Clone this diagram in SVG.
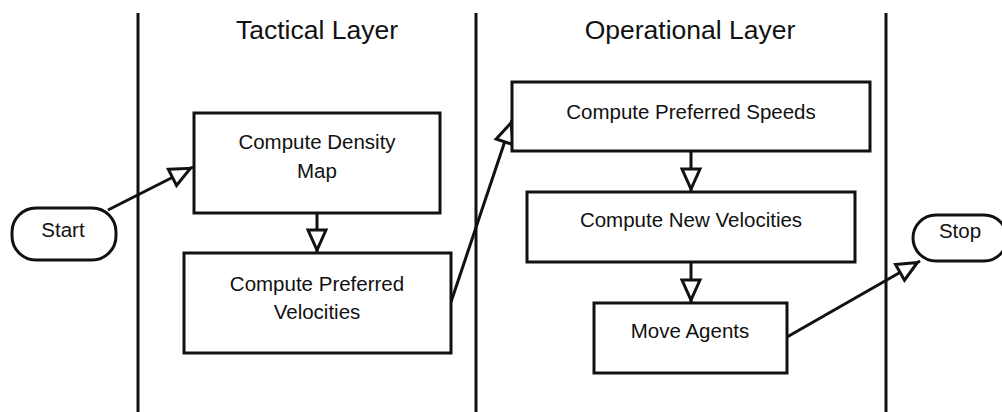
<svg xmlns="http://www.w3.org/2000/svg" width="1002" height="412" viewBox="0 0 1002 412">
<defs>
<style>
.lane{stroke:#111;stroke-width:3;fill:none}
.box{fill:#fff;stroke:#111;stroke-width:3}
.t{font-family:"Liberation Sans",Arial,Helvetica,sans-serif;font-size:20.5px;fill:#111;text-anchor:middle}
.title{font-family:"Liberation Sans",Arial,Helvetica,sans-serif;font-size:26.5px;fill:#111;text-anchor:middle}
.edge{stroke:#111;stroke-width:3;fill:none;marker-end:url(#arr)}
</style>
<marker id="arr" markerUnits="userSpaceOnUse" viewBox="-30 -14 32 28" refX="0" refY="0" markerWidth="32" markerHeight="28" orient="auto" overflow="visible">
<path d="M-23,-9 L-3,0 L-23,9 Z" fill="#fff" stroke="#111" stroke-width="3"/>
</marker>
</defs>
<rect width="1002" height="412" fill="#fff"/>
<g id="lanes">
<line class="lane" x1="138" y1="13" x2="138" y2="412"/>
<line class="lane" x1="476" y1="13" x2="476" y2="412"/>
<line class="lane" x1="886" y1="13" x2="886" y2="412"/>
<text class="title" x="317" y="39">Tactical Layer</text>
<text class="title" x="690" y="39">Operational Layer</text>
</g>
<g id="connectors">
<line class="edge" x1="108" y1="210" x2="193" y2="167"/>
<line class="edge" x1="317" y1="213" x2="317" y2="253"/>
<line class="edge" x1="451" y1="302" x2="512" y2="120"/>
<line class="edge" x1="691" y1="151" x2="691" y2="192"/>
<line class="edge" x1="691" y1="262" x2="691" y2="303"/>
<line class="edge" x1="787" y1="337" x2="920" y2="261"/>
</g>
<g id="start">
<rect class="box" x="12" y="208" width="104" height="52" rx="24" ry="24"/>
<text class="t" x="63" y="237">Start</text>
</g>
<g id="density">
<rect class="box" x="194" y="113" width="246" height="100"/>
<text class="t" x="317" y="149">Compute Density</text>
<text class="t" x="317" y="178">Map</text>
</g>
<g id="prefvel">
<rect class="box" x="184" y="253" width="267" height="100"/>
<text class="t" x="317" y="291">Compute Preferred</text>
<text class="t" x="317" y="319">Velocities</text>
</g>
<g id="speeds">
<rect class="box" x="512" y="82" width="358" height="69"/>
<text class="t" x="691" y="119">Compute Preferred Speeds</text>
</g>
<g id="newvel">
<rect class="box" x="527" y="192" width="328" height="70"/>
<text class="t" x="691" y="227">Compute New Velocities</text>
</g>
<g id="move">
<rect class="box" x="594" y="303" width="193" height="70"/>
<text class="t" x="690" y="338">Move Agents</text>
</g>
<g id="stop">
<rect class="box" x="913" y="215" width="94" height="46" rx="23" ry="23"/>
<text class="t" x="960" y="238">Stop</text>
</g>
</svg>
